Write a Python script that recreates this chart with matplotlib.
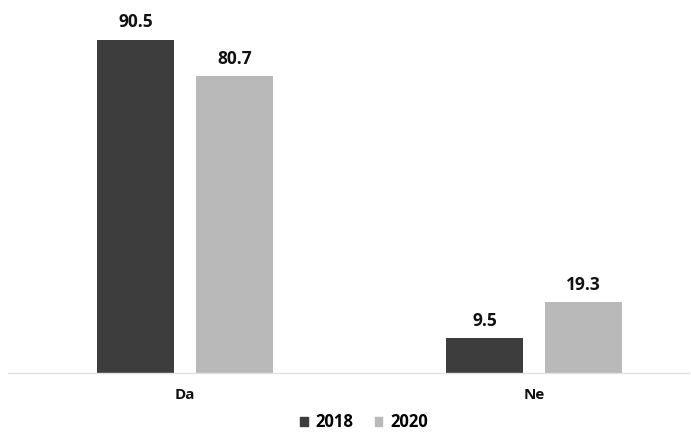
import matplotlib.pyplot as plt
import numpy as np
from matplotlib.patches import Patch

categories = ["Da", "Ne"]
years = ["2018", "2020"]
values_2018 = [90.5, 9.5]
values_2020 = [80.7, 19.3]

DARK = "#3d3d3d"
LIGHT = "#b9b9b9"

plt.rcParams["font.family"] = ["Open Sans", "DejaVu Sans"]

fig = plt.figure(figsize=(6.91, 4.41), dpi=100)
ax = fig.add_axes([8 / 691, 1 - 373 / 441, 681 / 691, 373 / 441])

x = np.arange(len(categories))
width = 0.22
offset = 0.142

bars_a = ax.bar(x - offset, values_2018, width, color=DARK, label=years[0])
bars_b = ax.bar(x + offset, values_2020, width, color=LIGHT, label=years[1])

for bars in (bars_a, bars_b):
    for rect in bars:
        ax.annotate(
            f"{rect.get_height():.1f}",
            (rect.get_x() + rect.get_width() / 2, rect.get_height()),
            xytext=(0, 6),
            textcoords="offset points",
            ha="center",
            va="bottom",
            fontsize=12.5,
            fontweight="bold",
            color="#111111",
        )

ax.set_xlim(-0.507, 1.444)
ax.set_ylim(0, 101.3)
ax.set_xticks(x)
ax.set_xticklabels(categories, fontsize=11, fontweight="bold", color="#111111")
ax.tick_params(axis="x", length=0, pad=11)
ax.set_yticks([])
for side in ("top", "right", "left"):
    ax.spines[side].set_visible(False)
ax.spines["bottom"].set_color("#e2e2e2")
ax.spines["bottom"].set_linewidth(1.0)

handles = [Patch(color=DARK, label=years[0]), Patch(color=LIGHT, label=years[1])]
fig.legend(
    handles=handles,
    loc="center",
    bbox_to_anchor=(364 / 691, 1 - 422 / 441),
    ncol=2,
    frameon=False,
    handlelength=0.45,
    handleheight=0.45,
    handletextpad=0.45,
    columnspacing=1.3,
    prop={"size": 12, "weight": "bold"},
)

fig.savefig("out.png", dpi=100, facecolor="white")
